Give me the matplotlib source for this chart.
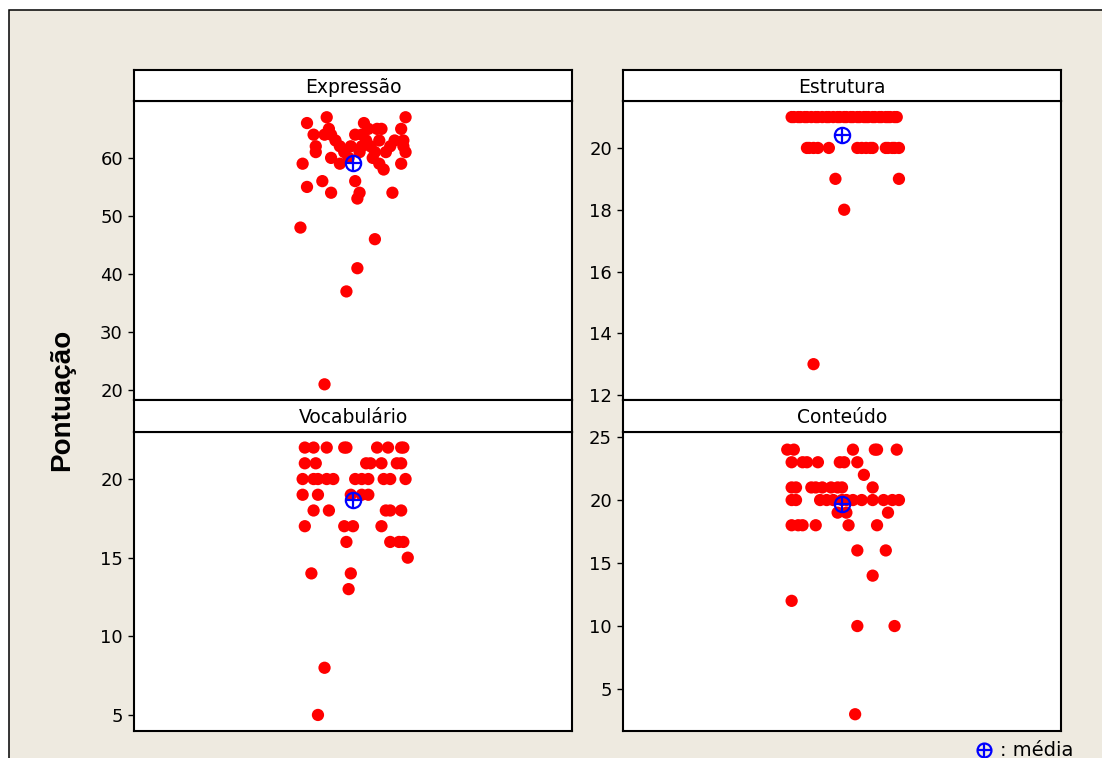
import numpy as np
import matplotlib.pyplot as plt
from matplotlib.patches import Rectangle

W, H = 1102, 758
bg = "#eeeae0"

# scores per student, one list per criterion, with the horizontal jitter of each dot
expressao_vals = [66, 67, 67, 66, 64, 65, 64, 64, 64, 64, 63, 65, 65, 65, 63, 63,
                  62, 61, 62, 62, 62, 61, 61, 62, 62, 61, 60, 59, 59, 59, 58, 59,
                  56, 54, 53, 56, 55, 54, 54, 48, 46, 41, 37, 21,
                  65, 61, 62, 63, 63, 61, 60, 60]
expressao_jit = [-0.21, -0.12, 0.24, 0.05, -0.18, -0.11, -0.13, -0.10, 0.01, 0.04, 0.06, 0.11,
                 0.13, 0.22, 0.12, 0.23, -0.17, -0.17, -0.06, -0.01, 0.04, 0.03, 0.10, 0.17,
                 0.23, 0.24, -0.10, -0.23, -0.06, 0.12, 0.14, 0.22,
                 0.01, 0.03, 0.02, -0.14, -0.21, -0.10, 0.18, -0.24, 0.10, 0.02, -0.03, -0.13,
                 0.07, -0.04, 0.08, 0.19, -0.08, 0.15, -0.02, 0.09]

estrutura_vals = [21] * 33 + [20] * 15 + [19, 19, 18, 13]
estrutura_jit = [-0.23, -0.22, -0.20, -0.19, -0.17, -0.16, -0.14, -0.12, -0.11, -0.09, -0.07,
                 -0.06, -0.04, -0.02, -0.01, 0.01, 0.02, 0.04, 0.05, 0.07, 0.08, 0.10, 0.11,
                 0.12, 0.14, 0.15, 0.17, 0.18, 0.20, 0.21, 0.22, 0.24, 0.25,
                 -0.16, -0.15, -0.13, -0.11, -0.06, 0.07, 0.09, 0.11, 0.13, 0.14, 0.20,
                 0.21, 0.23, 0.24, 0.26,
                 -0.03, 0.26, 0.01, -0.13]

vocabulario_vals = ([22] * 9 + [21] * 7 + [20] * 11 + [19] * 5 + [18] * 5 + [17] * 4 +
                    [16] * 4 + [15, 14, 14, 13, 8, 5])
vocabulario_jit = [-0.22, -0.18, -0.12, -0.04, -0.03, 0.11, 0.16, 0.22, 0.23,
                   -0.22, -0.17, 0.06, 0.08, 0.13, 0.20, 0.22,
                   -0.23, -0.18, -0.16, -0.12, -0.09, 0.01, 0.04, 0.07, 0.14, 0.17, 0.24,
                   -0.23, -0.16, -0.01, 0.04, 0.07,
                   -0.18, -0.11, 0.15, 0.17, 0.22,
                   -0.22, -0.04, 0.00, 0.13,
                   -0.03, 0.17, 0.21, 0.23,
                   0.25, -0.19, -0.01, -0.02, -0.13, -0.16]

conteudo_vals = ([24] * 6 + [23] * 7 + [22] + [21] * 9 + [20] * 13 + [19] * 3 + [18] * 6 +
                 [16, 16, 14, 12, 10, 10, 3])
conteudo_jit = [-0.25, -0.22, 0.05, 0.15, 0.16, 0.25,
                -0.23, -0.18, -0.16, -0.11, -0.01, 0.01, 0.07,
                0.10,
                -0.23, -0.21, -0.14, -0.12, -0.09, -0.05, -0.02, 0.00, 0.14,
                -0.23, -0.21, -0.10, -0.07, -0.04, 0.00, 0.02, 0.05, 0.09, 0.14, 0.19, 0.23, 0.26,
                -0.02, 0.02, 0.21,
                -0.23, -0.20, -0.18, -0.12, 0.03, 0.16,
                0.07, 0.20, 0.14, -0.23, 0.07, 0.24, 0.06]

panels = [
    ("Expressão", expressao_vals, expressao_jit, [20, 30, 40, 50, 60], (18.3, 69.8)),
    ("Estrutura", estrutura_vals, estrutura_jit, [12, 14, 16, 18, 20], (11.84, 21.52)),
    ("Vocabulário", vocabulario_vals, vocabulario_jit, [5, 10, 15, 20], (3.98, 22.99)),
    ("Conteúdo", conteudo_vals, conteudo_jit, [5, 10, 15, 20, 25], (1.67, 25.4)),
]

# pixel boxes: (left, plot top, plot bottom) for each panel, header sits above
boxes = [(134, 101, 400), (623, 101, 400), (134, 432, 731), (623, 432, 731)]
panel_w = 438
header_h = [31, 31, 32, 32]

fig = plt.figure(figsize=(W / 100, H / 100), dpi=100, facecolor="white")
fig.patches.append(Rectangle((9 / W, -0.1), 1.2, 1 - 10 / H + 0.1, transform=fig.transFigure,
                             facecolor=bg, edgecolor="black", linewidth=1.1, zorder=-10))

for (title, vals, jit, ticks, ylim), (x0, top, bot), hh in zip(panels, boxes, header_h):
    ax = fig.add_axes([x0 / W, 1 - bot / H, panel_w / W, (bot - top) / H])
    ax.set_facecolor("white")
    ax.scatter(jit, vals, s=78, color="#ff0000", edgecolors="none", zorder=3)
    m = np.mean(vals)
    ax.plot(0, m, "o", ms=11, mfc="none", mec="#0000ff", mew=1.6, zorder=4)
    ax.plot(0, m, "+", ms=11, color="#0000ff", mew=1.6, zorder=4)
    ax.set_xlim(-1, 1)
    ax.set_ylim(*ylim)
    ax.set_xticks([])
    ax.set_yticks(ticks)
    ax.tick_params(axis="y", length=4, width=1, pad=4, labelsize=13, colors="black")
    for s in ax.spines.values():
        s.set_linewidth(1.5)

    hax = fig.add_axes([x0 / W, 1 - top / H, panel_w / W, hh / H])
    hax.set_xticks([])
    hax.set_yticks([])
    hax.set_facecolor("white")
    for s in hax.spines.values():
        s.set_linewidth(1.5)
    hax.text(0.5, 0.45, title, ha="center", va="center", fontsize=13.5,
             transform=hax.transAxes)

fig.text(62 / W, 1 - 400 / H, "Pontuação", rotation=90, ha="center", va="center",
         fontsize=20, fontweight="bold", family=["Liberation Sans", "DejaVu Sans"])

# legend for the mean symbol
fig.lines.append(plt.Line2D([984 / W], [1 - 750 / H], marker="o", ms=10, mfc="none",
                            mec="#0000ff", mew=1.6, transform=fig.transFigure))
fig.lines.append(plt.Line2D([984 / W], [1 - 750 / H], marker="+", ms=10, color="#0000ff",
                            mew=1.6, transform=fig.transFigure))
fig.text(1000 / W, 1 - 750 / H, ": média", ha="left", va="center", fontsize=14)

fig.savefig("out.png", dpi=100, facecolor="white")
